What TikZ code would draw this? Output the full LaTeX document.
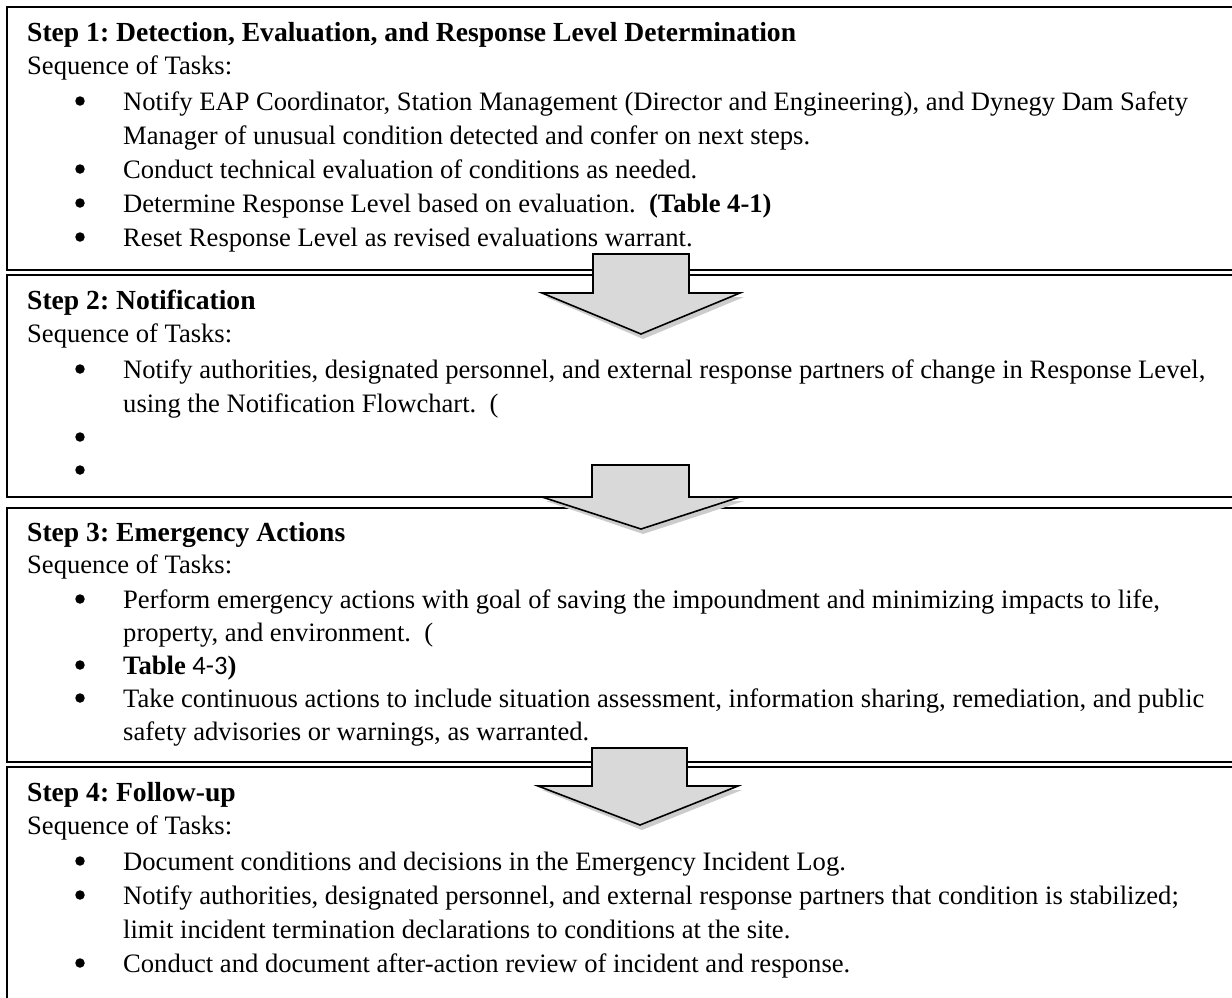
\documentclass[tikz,border=0pt]{standalone}
\usepackage{fontspec}
\setmainfont{Liberation Serif}
\newfontfamily\calibfont{Carlito}
\definecolor{arrowgray}{HTML}{D9D9D9}
\frenchspacing
\begin{document}
\begin{tikzpicture}[x=1pt,y=-1pt,
  txt/.style={anchor=base west, inner sep=0pt, font=\fontsize{26.6}{32}\selectfont},
  head/.style={anchor=base west, inner sep=0pt, font=\fontsize{27.6}{32}\selectfont\bfseries},
  boxline/.style={draw=black, line width=1.8pt},
  bul/.style={circle, fill=black, inner sep=0pt, minimum size=9.5pt},
  blockarrow/.style={fill=arrowgray, draw=black, line width=1.6pt, line join=miter},
  arrowshadow/.style={fill=black!20}]
\useasboundingbox (0,0) rectangle (1232,997);
\clip (0,0) rectangle (1232,997);
\fill[white] (0,0) rectangle (1232,997);

% boxes
\draw[boxline] (7,7) rectangle (1260,270);
\draw[boxline] (7,275) rectangle (1260,497);
\draw[boxline] (7,508) rectangle (1260,762);
\draw[boxline] (7,767) rectangle (1260,1020);

% Box 1
\node[head] (h1) at (27,41) {Step 1: Detection, Evaluation, and Response Level Determination};
\node[txt] (s1) at (27,74) {Sequence of Tasks:};
\node[bul] (p1a) at (80,101) {};
\node[txt] (t1a) at (123,110) {Notify EAP Coordinator, Station Management (Director and Engineering), and Dynegy Dam Safety};
\node[txt] (t1b) at (123,144) {Manager of unusual condition detected and confer on next steps.};
\node[bul] (p1c) at (80,169) {};
\node[txt] (t1c) at (123,178) {Conduct technical evaluation of conditions as needed.};
\node[bul] (p1d) at (80,203) {};
\node[txt] (t1d) at (123,212) {Determine Response Level based on evaluation.\ \ \textbf{(Table 4-1)}};
\node[bul] (p1e) at (80,237) {};
\node[txt] (t1e) at (123,246) {Reset Response Level as revised evaluations warrant.};

% Box 2
\node[head] (h2) at (27,309) {Step 2: Notification};
\node[txt] (s2) at (27,342) {Sequence of Tasks:};
\node[bul] (p2a) at (80,369) {};
\node[txt] (t2a) at (123,378) {Notify authorities, designated personnel, and external response partners of change in Response Level,};
\node[txt] (t2b) at (123,412) {using the Notification Flowchart.\ \ (};
\node[bul] (p2c) at (80,437) {};
\node[bul] (p2d) at (80,470) {};

% Box 3
\node[head] (h3) at (27,541) {Step 3: Emergency Actions};
\node[txt] (s3) at (27,573) {Sequence of Tasks:};
\node[bul] (p3a) at (80,599) {};
\node[txt] (t3a) at (123,608) {Perform emergency actions with goal of saving the impoundment and minimizing impacts to life,};
\node[txt] (t3b) at (123,641) {property, and environment.\ \ (};
\node[bul] (p3c) at (80,665) {};
\node[txt] (t3c) at (123,674) {\textbf{Table} {\calibfont 4-3}\textbf{)}};
\node[bul] (p3d) at (80,698) {};
\node[txt] (t3d) at (123,707) {Take continuous actions to include situation assessment, information sharing, remediation, and public};
\node[txt] (t3e) at (123,740) {safety advisories or warnings, as warranted.};

% Box 4
\node[head] (h4) at (27,801) {Step 4: Follow-up};
\node[txt] (s4) at (27,834) {Sequence of Tasks:};
\node[bul] (p4a) at (80,861) {};
\node[txt] (t4a) at (123,870) {Document conditions and decisions in the Emergency Incident Log.};
\node[bul] (p4b) at (80,895) {};
\node[txt] (t4b) at (123,904) {Notify authorities, designated personnel, and external response partners that condition is stabilized;};
\node[txt] (t4c) at (123,938) {limit incident termination declarations to conditions at the site.};
\node[bul] (p4d) at (80,963) {};
\node[txt] (t4d) at (123,972) {Conduct and document after-action review of incident and response.};

% block arrows (drawn over the box borders)
\fill[arrowshadow] (546,297) -- (744,297) -- (643,339) -- cycle;
\draw[blockarrow] (593,254) -- (689,254) -- (689,293) -- (740,293) -- (641,334) -- (542,293) -- (593,293) -- cycle;

\fill[arrowshadow] (546,501) -- (744,501) -- (643,534) -- cycle;
\draw[blockarrow] (592,465) -- (689,465) -- (689,497) -- (740,497) -- (641,529) -- (542,497) -- (592,497) -- cycle;

\fill[arrowshadow] (542,790) -- (742,790) -- (642,830) -- cycle;
\draw[blockarrow] (592,748) -- (687,748) -- (687,786) -- (738,786) -- (640,825) -- (538,786) -- (592,786) -- cycle;
\end{tikzpicture}
\end{document}
